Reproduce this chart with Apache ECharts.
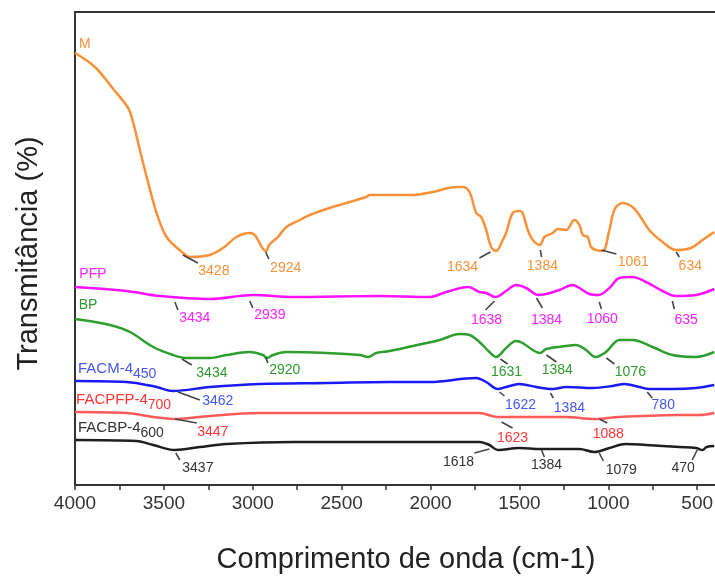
<!DOCTYPE html>
<html>
<head>
<meta charset="utf-8">
<script src="https://cdn.jsdelivr.net/npm/echarts@6/dist/echarts.min.js"></script>
<style>html,body{margin:0;padding:0;background:#fff}#c{width:715px;height:577px}</style>
</head>
<body>
<div id="c"></div>
<script>
// ---- data (wavenumber cm-1, transmittance in arbitrary units) ----
const wM = [4000,3888,3785,3701,3672,3635,3588,3541,3485,3392,3354,3242,3167,3092,3017,2989,2927,2904,2858,2811,2736,2680,2551,2361,2343,2101,1989,1856,1820,1781,1743,1715,1687,1659,1631,1594,1575,1538,1500,1482,1453,1425,1384,1360,1313,1285,1238,1191,1163,1144,1116,1097,1069,1032,994,966,920,864,826,770,695,620,535,470,404];
const tM = [432,418,396,377,362,335,302,272,248,232,228,230,237,248,252,250,234,241,248,258,265,270,278,288,290,290,293,298,298,293,272,268,255,238,234,245,252,272,274,272,255,245,240,248,252,256,255,265,260,250,248,238,235,234,255,275,282,278,270,255,243,235,237,245,253];

const wPFP = [4000,3710,3522,3242,2998,2774,2287,2006,1912,1789,1725,1687,1635,1575,1519,1462,1395,1350,1275,1201,1163,1107,1055,994,938,864,788,695,620,507,404];
const tPFP = [198,194,189,186,190,188,189,188,193,198,193,192,188,194,200,197,190,191,195,200,197,191,190,197,207,208,203,194,189,190,196];

const wBP = [4000,3803,3691,3560,3448,3372,3242,3148,3017,2942,2920,2886,2811,2586,2399,2352,2305,2230,2099,1949,1837,1781,1725,1669,1631,1575,1519,1482,1425,1384,1350,1238,1182,1125,1072,1013,938,864,751,639,507,404];
const tBP = [166,160,153,138,130,127,127,130,133,130,127,130,133,132,130,128,132,134,139,145,151,150,143,133,128,137,144,142,135,132,136,139,140,135,128,133,145,145,138,130,128,133];

const wFACM = [4000,3710,3541,3450,3242,2961,2586,2230,2006,1743,1687,1622,1575,1500,1406,1313,1238,1088,976,910,826,770,639,507,404];
const tFACM = [104,103,98,94,98,101,102,103,103,107,103,96,98,101,98,96,98,97,99,101,98,96,96,97,100];

const wFACPFP = [4000,3710,3560,3447,3298,2961,2230,1725,1623,1444,1238,1080,938,601,489,404];
const tFACPFP = [73,72,68,66,68,72,72,72,68,68,68,66,68,70,70,72];

const wFACBP = [4000,3653,3560,3437,3298,3148,2774,2230,1725,1669,1622,1500,1384,1163,1079,994,901,788,601,507,470,447,404];
const tFACBP = [45,44,40,35,38,41,43,43,43,40,35,37,36,36,33,37,41,40,38,37,35,38,39];

const xTickLabels = [4000,3500,3000,2500,2000,1500,1000,500];
const xTicks = [4000,3750,3500,3250,3000,2750,2500,2250,2000,1750,1500,1250,1000,750,500];

// peak annotations: [text, leader start (w,t), leader end (w,t), text centre (w,t)]
const notesM = [
  ['3428',3393,230,3309,222,3219,214],
  ['2924',2927,233,2910,226,2815,217],
  ['1634',1663,233,1725,227,1820,218],
  ['1384',1382,235,1376,228,1371,219],
  ['1061',1039,235,955,231,860,223],
  ['634',618,233,601,228,539,219]
];
const notesPFP = [
  ['3434',3438,183,3421,175,3326,167],
  ['2939',3017,184,3000,177,2904,170],
  ['1638',1640,184,1691,175,1685,165],
  ['1384',1404,187,1371,177,1348,165],
  ['1060',1051,183,1039,176,1034,166],
  ['635',640,184,629,176,562,165]
];
const notesBP = [
  ['3434',3399,126,3343,120,3230,112],
  ['2920',2927,128,2916,122,2820,115],
  ['1631',1607,126,1567,121,1573,113],
  ['1384',1348,130,1292,123,1287,115],
  ['1076',1011,127,966,121,876,113]
];
const notesFACM = [
  ['3462',3421,93,3298,85,3197,84],
  ['1622',1612,93,1584,89,1494,80],
  ['1384',1326,92,1309,87,1219,77],
  ['780',781,93,753,87,691,80]
];
const notesFACPFP = [
  ['3447',3438,66,3315,62,3225,53],
  ['1623',1601,63,1539,57,1539,47],
  ['1088',1051,66,1006,62,1000,51]
];
const notesFACBP = [
  ['3437',3433,32,3410,25,3309,17],
  ['1618',1669,36,1753,32,1843,23],
  ['1384',1376,35,1360,28,1348,20],
  ['1079',1051,32,1028,24,927,15],
  ['470',500,35,528,25,579,17]
];
// series names: [main, subscript, anchor w, anchor t]
const namesInfo = [
  ['M','',3944,441],
  ['PFP','',3899,211],
  ['BP','',3927,180],
  ['FACM-4','450',3983,116],
  ['FACPFP-4','700',3994,85],
  ['FACBP-4','600',3983,57]
];

// ---- styles ----
const FONT = '"Liberation Sans", Arial, sans-serif';
const lineCols = ['#F7913A','#FF10FF','#2E9E2E','#1A1AF5','#FF5A5A','#1E1E1E'];
const textCols = ['#F7913A','#FF22FF','#2E9B2E','#4657EE','#FF3535','#333333'];

function lineSeries(name, w, t, color) {
  return {
    name, type: 'line', showSymbol: false, smooth: 0.35,
    data: w.map((x, i) => [x, t[i]]),
    lineStyle: { color, width: 2.5 }, itemStyle: { color }, z: 3, silent: true
  };
}
function noteSeries(notes, color) {
  return {
    type: 'custom', coordinateSystem: 'cartesian2d', clip: false, silent: true, z: 5,
    data: notes.map(n => [n[1], n[2], n[3], n[4], n[5], n[6]]),
    encode: { x: [0, 2, 4], y: [1, 3, 5] },
    renderItem: function (params, api) {
      const n = notes[params.dataIndex];
      const a = api.coord([n[1], n[2]]), b = api.coord([n[3], n[4]]), c = api.coord([n[5], n[6]]);
      return { type: 'group', children: [
        { type: 'line', shape: { x1: a[0], y1: a[1], x2: b[0], y2: b[1] }, style: { stroke: '#444', lineWidth: 1.6 } },
        { type: 'text', x: c[0], y: c[1], style: { text: n[0], fill: color, fontSize: 14, fontFamily: FONT, align: 'center', verticalAlign: 'middle', textAlign: 'center', textVerticalAlign: 'middle' } }
      ]};
    }
  };
}
const nameSeries = {
  type: 'custom', coordinateSystem: 'cartesian2d', clip: false, silent: true, z: 6,
  data: namesInfo.map(n => [n[2], n[3]]),
  renderItem: function (params, api) {
    const n = namesInfo[params.dataIndex];
    const p = api.coord([n[2], n[3]]);
    const col = textCols[params.dataIndex];
    const isSimple = !n[1];
    return { type: 'text', x: p[0], y: p[1], style: {
      text: isSimple ? n[0] : '{a|' + n[0] + '}{b|' + n[1] + '}',
      fill: col, fontSize: 14, fontFamily: FONT,
      align: isSimple ? 'center' : 'left', verticalAlign: 'middle',
      textAlign: isSimple ? 'center' : 'left', textVerticalAlign: 'middle',
      rich: {
        a: { fontSize: 15, fill: col, fontFamily: FONT },
        b: { fontSize: 14, fill: col, fontFamily: FONT, padding: [11, 0, 0, 0] }
      }
    }};
  }
};

const chart = echarts.init(document.getElementById('c'), null, { renderer: 'canvas' });
chart.setOption({
  animation: false,
  backgroundColor: '#fff',
  grid: { left: 75, right: 0, top: 12, bottom: 92, outerBoundsMode: 'none', containLabel: false },
  xAxis: [
    {
      type: 'value', min: 400, max: 4000, inverse: true, position: 'bottom',
      axisLine: { show: true, onZero: false, lineStyle: { color: '#333', width: 2 } },
      axisTick: { show: true, customValues: xTicks, length: 5, lineStyle: { color: '#333', width: 1.5 } },
      axisLabel: { customValues: xTickLabels, fontSize: 19, color: '#333', margin: 9, fontFamily: FONT, formatter: v => String(v) },
      splitLine: { show: false },
      name: 'Comprimento de onda (cm-1)', nameLocation: 'middle', nameGap: 60,
      nameTextStyle: { fontSize: 29, color: '#222', fontFamily: FONT, padding: [0, 0, 0, 22] }
    },
    {
      type: 'value', min: 400, max: 4000, inverse: true, position: 'top',
      axisLine: { show: true, onZero: false, lineStyle: { color: '#333', width: 2 } },
      axisTick: { show: false }, axisLabel: { show: false }, splitLine: { show: false }
    }
  ],
  yAxis: {
    type: 'value', min: 0, max: 473,
    axisLine: { show: true, onZero: false, lineStyle: { color: '#333', width: 2 } },
    axisTick: { show: false }, axisLabel: { show: false }, splitLine: { show: false },
    name: 'Transmitância (%)', nameLocation: 'middle', nameGap: 32,
    nameTextStyle: { fontSize: 29, color: '#222', fontFamily: FONT, padding: [0, 10, 0, 0] }
  },
  series: [
    lineSeries('M', wM, tM, lineCols[0]),
    lineSeries('PFP', wPFP, tPFP, lineCols[1]),
    lineSeries('BP', wBP, tBP, lineCols[2]),
    lineSeries('FACM-4450', wFACM, tFACM, lineCols[3]),
    lineSeries('FACPFP-4700', wFACPFP, tFACPFP, lineCols[4]),
    lineSeries('FACBP-4600', wFACBP, tFACBP, lineCols[5]),
    noteSeries(notesM, textCols[0]),
    noteSeries(notesPFP, textCols[1]),
    noteSeries(notesBP, textCols[2]),
    noteSeries(notesFACM, textCols[3]),
    noteSeries(notesFACPFP, textCols[4]),
    noteSeries(notesFACBP, textCols[5]),
    nameSeries
  ]
});
</script>
</body>
</html>
